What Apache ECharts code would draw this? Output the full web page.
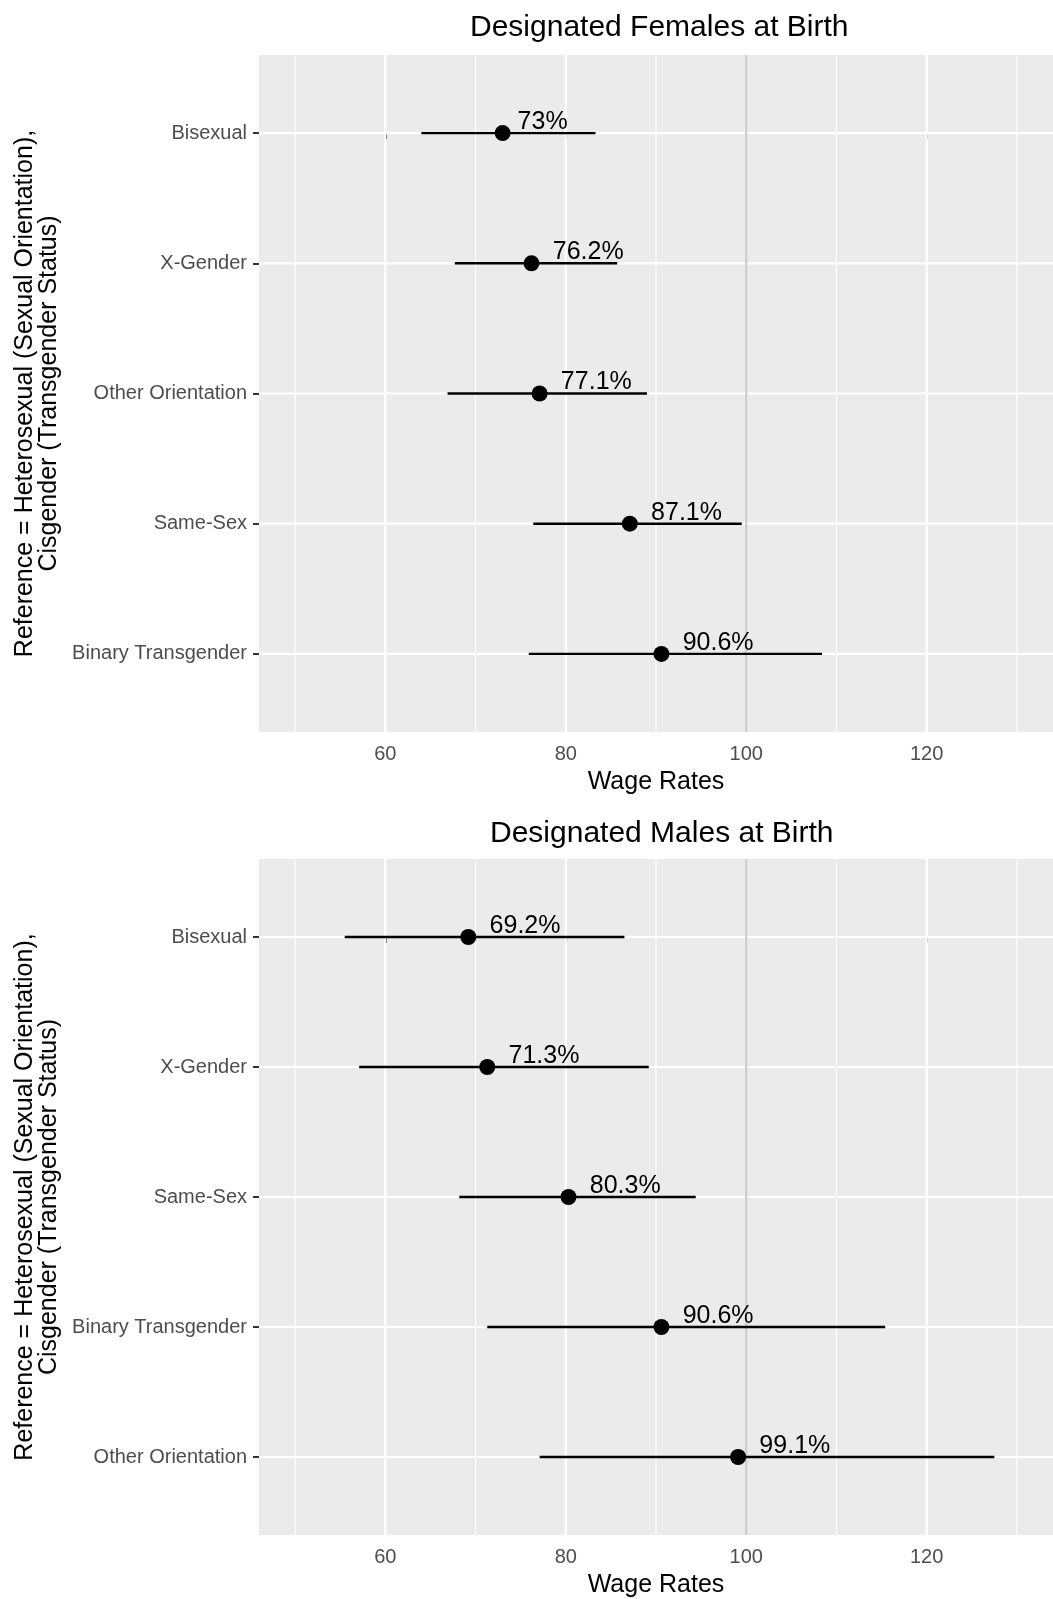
<!DOCTYPE html>
<html>
<head>
    <meta charset="utf-8">
    <title>Wage Rates</title>
    <script src="https://cdn.jsdelivr.net/npm/echarts@6/dist/echarts.min.js"></script>
    <style>
        body { margin: 0; background: #fff; }
    </style>
</head>
<body>
    <div id="main" style="width: 1053px;height:1599px;"></div>
    <script type="text/javascript">
        // data
        var femaleCats = ['Bisexual', 'X-Gender', 'Other Orientation', 'Same-Sex', 'Binary Transgender'];
        var femaleEst = [73, 76.2, 77.1, 87.1, 90.6];
        var femaleLow = [64.0, 67.7, 66.9, 76.4, 75.9];
        var femaleHigh = [83.3, 85.7, 89.0, 99.5, 108.4];

        var maleCats = ['Bisexual', 'X-Gender', 'Same-Sex', 'Binary Transgender', 'Other Orientation'];
        var maleEst = [69.2, 71.3, 80.3, 90.6, 99.1];
        var maleLow = [55.5, 57.1, 68.2, 71.3, 77.1];
        var maleHigh = [86.5, 89.2, 94.4, 115.4, 127.5];

        var majorTicks = [60, 80, 100, 120];
        var minorTicks = [50, 70, 90, 110, 130];
        var refLine = 100;

        var xMin = 46, xMax = 134, yMin = -0.6, yMax = 4.6;

        var font = '"Liberation Sans", Arial, Helvetica, sans-serif';
        var ctx = document.createElement('canvas').getContext('2d');
        ctx.font = '25px ' + font;

        var myChart = echarts.init(document.getElementById('main'));

        function xAxisFor(idx) {
            return {
                type: 'value',
                gridIndex: idx,
                min: xMin,
                max: xMax,
                name: 'Wage Rates',
                nameLocation: 'middle',
                nameGap: 38,
                nameTextStyle: { color: '#000', fontSize: 25, fontFamily: font },
                axisLine: { show: false },
                axisTick: { show: true, length: 6, customValues: majorTicks, lineStyle: { color: '#333', width: 2 } },
                axisLabel: { customValues: majorTicks, color: '#4D4D4D', fontSize: 20, fontFamily: font, margin: 12 },
                splitLine: { show: false }
            };
        }

        function yAxisFor(idx, cats) {
            return {
                type: 'value',
                gridIndex: idx,
                inverse: true,
                min: yMin,
                max: yMax,
                name: 'Reference = Heterosexual (Sexual Orientation),\nCisgender (Transgender Status)',
                nameLocation: 'middle',
                nameRotate: 90,
                nameGap: 198,
                nameTextStyle: { color: '#000', fontSize: 25, fontFamily: font, lineHeight: 24, align: 'center' },
                axisLine: { show: false },
                axisTick: { show: true, length: 6, customValues: [0, 1, 2, 3, 4], lineStyle: { color: '#333', width: 2 } },
                axisLabel: {
                    customValues: [0, 1, 2, 3, 4],
                    color: '#4D4D4D', fontSize: 20, fontFamily: font, margin: 12,
                    formatter: function (v) { return cats[Math.round(v)] || ''; }
                },
                splitLine: { show: false }
            };
        }

        // panel grid lines + reference line, drawn through the axes
        function gridLines(idx, cats) {
            var items = [];
            minorTicks.forEach(function (v) { items.push({ vertical: true, v: v, w: 1.1, c: '#ffffff' }); });
            majorTicks.forEach(function (v) { items.push({ vertical: true, v: v, w: 2.2, c: '#ffffff' }); });
            cats.forEach(function (c, i) { items.push({ vertical: false, v: i, w: 2.2, c: '#ffffff' }); });
            items.push({ vertical: true, v: refLine, w: 2.2, c: '#cbcbcb' });
            return {
                type: 'custom',
                xAxisIndex: idx,
                yAxisIndex: idx,
                z: 1,
                silent: true,
                data: items.map(function (d) { return d.vertical ? [d.v, yMin] : [xMin, d.v]; }),
                renderItem: function (params, api) {
                    var d = items[params.dataIndex];
                    var p1, p2;
                    if (d.vertical) {
                        p1 = api.coord([d.v, yMin]);
                        p2 = api.coord([d.v, yMax]);
                    } else {
                        p1 = api.coord([xMin, d.v]);
                        p2 = api.coord([xMax, d.v]);
                    }
                    return {
                        type: 'line',
                        shape: { x1: p1[0], y1: p1[1], x2: p2[0], y2: p2[1] },
                        style: { stroke: d.c, lineWidth: d.w }
                    };
                }
            };
        }

        function errorBars(idx, low, high) {
            var data = low.map(function (l, i) { return [l, high[i], i]; });
            return {
                type: 'custom',
                xAxisIndex: idx,
                yAxisIndex: idx,
                z: 5,
                silent: true,
                encode: { x: [0, 1], y: 2 },
                data: data,
                renderItem: function (params, api) {
                    var p1 = api.coord([api.value(0), api.value(2)]);
                    var p2 = api.coord([api.value(1), api.value(2)]);
                    return {
                        type: 'line',
                        shape: { x1: p1[0], y1: p1[1], x2: p2[0], y2: p2[1] },
                        style: { stroke: '#000', lineWidth: 2.4 }
                    };
                }
            };
        }

        function points(idx, est) {
            var data = est.map(function (v, i) {
                var txt = v + '%';
                var w = ctx.measureText(txt).width;
                return {
                    value: [v, i],
                    label: { offset: [0.3 * w, -11] }
                };
            });
            return {
                type: 'scatter',
                xAxisIndex: idx,
                yAxisIndex: idx,
                z: 6,
                symbolSize: 16,
                itemStyle: { color: '#000', opacity: 1 },
                data: data,
                label: {
                    show: true,
                    position: 'inside',
                    align: 'left',
                    verticalAlign: 'middle',
                    color: '#000',
                    fontSize: 25,
                    fontFamily: font,
                    formatter: function (p) { return p.value[0] + '%'; }
                }
            };
        }

        var option = {
            animation: false,
            backgroundColor: '#fff',
            grid: [
                { left: 259, right: -8, top: 55, height: 677, show: true, backgroundColor: '#EBEBEB', borderWidth: 0 },
                { left: 259, right: -8, top: 859, height: 677, show: true, backgroundColor: '#EBEBEB', borderWidth: 0 }
            ],
            graphic: [
                { type: 'text', left: 660 - 190, top: 13, style: { text: 'Designated Females at Birth', fontSize: 30, fontFamily: font, fill: '#000' } },
                { type: 'text', left: 660 - 170, top: 819, style: { text: 'Designated Males at Birth', fontSize: 30, fontFamily: font, fill: '#000' } }
            ],
            xAxis: [xAxisFor(0), xAxisFor(1)],
            yAxis: [yAxisFor(0, femaleCats), yAxisFor(1, maleCats)],
            series: [
                gridLines(0, femaleCats), errorBars(0, femaleLow, femaleHigh), points(0, femaleEst),
                gridLines(1, maleCats), errorBars(1, maleLow, maleHigh), points(1, maleEst)
            ]
        };

        myChart.setOption(option);
    </script>
</body>
</html>
